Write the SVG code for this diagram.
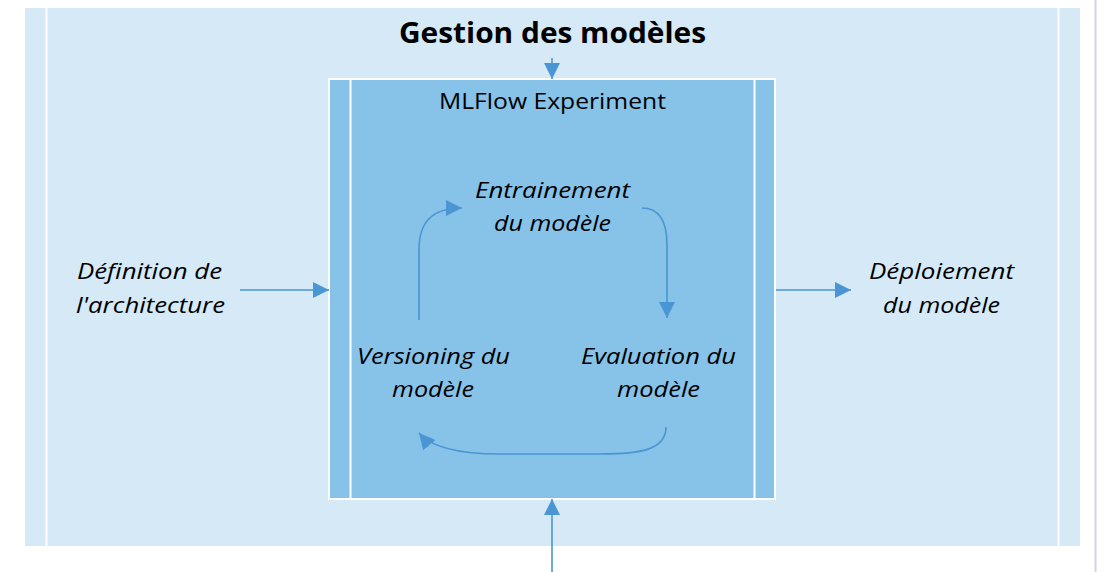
<svg xmlns="http://www.w3.org/2000/svg" width="1104" height="572" viewBox="0 0 1104 572">
<defs>
<style>
.t{font-family:"Open Sans","Liberation Sans",sans-serif;fill:#000;text-anchor:middle}
.i{font-size:22px;font-style:italic}
.c{fill:none;stroke:#4A95D3;stroke-width:1.6}
</style>
<marker id="ah" viewBox="0 0 10 10" refX="10" refY="5" markerWidth="16" markerHeight="16" markerUnits="userSpaceOnUse" orient="auto">
<path d="M0,0 L10,5 L0,10 Z" fill="#4A95D3"/>
</marker>
</defs>
<rect width="1104" height="572" fill="#fff"/>
<line x1="1095.5" y1="0" x2="1095.5" y2="572" stroke="#d3d6dd" stroke-width="2"/>
<g id="outer">
<rect x="25" y="8" width="1055" height="538" fill="#D5E9F7"/>
<line x1="46.5" y1="8" x2="46.5" y2="546" stroke="#fff" stroke-width="2"/>
<line x1="1058.5" y1="8" x2="1058.5" y2="546" stroke="#fff" stroke-width="2"/>
<text class="t" x="552.5" y="43" font-size="29" font-weight="bold" textLength="307" lengthAdjust="spacingAndGlyphs">Gestion des modèles</text>
</g>
<g id="experiment">
<rect x="329" y="79" width="446" height="420" fill="#87C2E8" stroke="#fff" stroke-width="2"/>
<line x1="350.5" y1="79" x2="350.5" y2="499" stroke="#fff" stroke-width="2"/>
<line x1="754.5" y1="79" x2="754.5" y2="499" stroke="#fff" stroke-width="2"/>
<text class="t" x="552.5" y="109" font-size="22" textLength="227" lengthAdjust="spacingAndGlyphs">MLFlow Experiment</text>
</g>
<g id="entrainement">
<text class="t i" x="552.5" y="198" textLength="155" lengthAdjust="spacingAndGlyphs">Entrainement</text>
<text class="t i" x="552.5" y="231" textLength="117" lengthAdjust="spacingAndGlyphs">du modèle</text>
</g>
<g id="evaluation">
<text class="t i" x="658.5" y="364" textLength="155" lengthAdjust="spacingAndGlyphs">Evaluation du</text>
<text class="t i" x="658.5" y="397" textLength="83" lengthAdjust="spacingAndGlyphs">modèle</text>
</g>
<g id="versioning">
<text class="t i" x="433.5" y="364" textLength="153" lengthAdjust="spacingAndGlyphs">Versioning du</text>
<text class="t i" x="433" y="397" textLength="82" lengthAdjust="spacingAndGlyphs">modèle</text>
</g>
<g id="definition">
<text class="t i" x="149.5" y="279" textLength="145" lengthAdjust="spacingAndGlyphs">Définition de</text>
<text class="t i" x="150.5" y="313" textLength="149" lengthAdjust="spacingAndGlyphs">l'architecture</text>
</g>
<g id="deploiement">
<text class="t i" x="941.5" y="279" textLength="145" lengthAdjust="spacingAndGlyphs">Déploiement</text>
<text class="t i" x="941.5" y="313" textLength="117" lengthAdjust="spacingAndGlyphs">du modèle</text>
</g>
<g id="connectors">
<line class="c" x1="552" y1="58" x2="552" y2="79" marker-end="url(#ah)"/>
<line class="c" x1="552" y1="572" x2="552" y2="499" marker-end="url(#ah)"/>
<line class="c" x1="240" y1="290" x2="329" y2="290" marker-end="url(#ah)"/>
<line class="c" x1="776" y1="290" x2="851" y2="290" marker-end="url(#ah)"/>
<path class="c" d="M419,320 L419,250 C419,222 432,208 462,208" marker-end="url(#ah)"/>
<path class="c" d="M642,208 C660,208 667,222 667,245 L667,318" marker-end="url(#ah)"/>
<path class="c" d="M666,427 C666,450 640,454 600,454 L500,454 C455,454 430,446 419,433" marker-end="url(#ah)"/>
</g>
</svg>
